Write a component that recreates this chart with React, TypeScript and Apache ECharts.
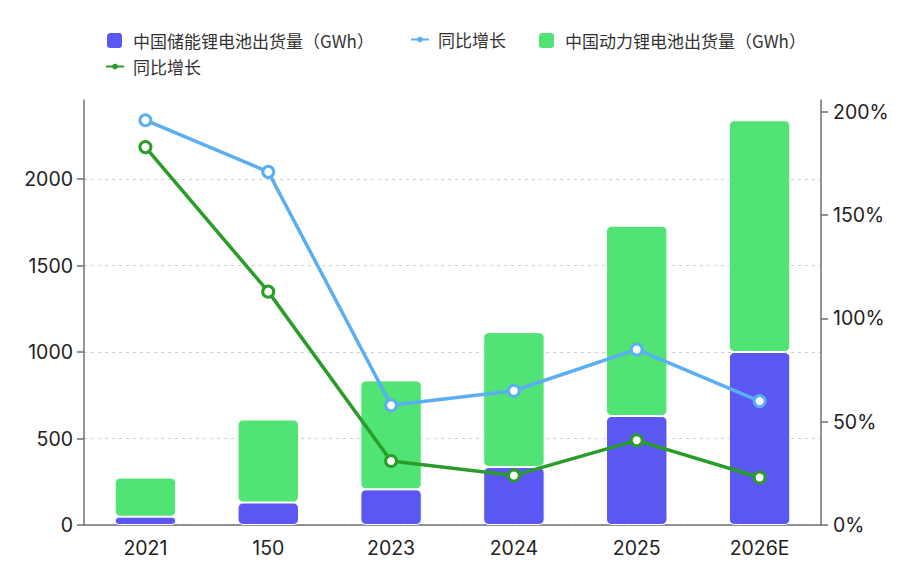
import React, { useEffect, useRef } from "react";
import * as echarts from "echarts";

const categories = ["2021", "150", "2023", "2024", "2025", "2026E"];
const storageShipments = [48, 130, 206, 335, 630, 1000];
const powerShipments = [226, 480, 630, 780, 1100, 1340];
const storageGrowth = [196, 171, 58, 65, 85, 60];
const powerGrowth = [183, 113, 31, 24, 41, 23];
const leftTicks = [0, 500, 1000, 1500, 2000];
const rightTicks = [0, 50, 100, 150, 200];

const NAME_STORAGE = "中国储能锂电池出货量（GWh）";
const NAME_POWER = "中国动力锂电池出货量（GWh）";
const NAME_G1 = "同比增长";
const NAME_G2 = "同比增长 ";

const BLUE_BAR = "#5A57F3";
const GREEN_BAR = "#51E373";
const BLUE_LINE = "#5AAEF2";
const GREEN_LINE = "#2A9C2A";

export default function App() {
  const ref = useRef<HTMLDivElement>(null);
  useEffect(() => {
    if (!ref.current) return;
    const chart = echarts.init(ref.current, undefined, { renderer: "svg" });
    const textStyle = (pad: number) => ({
      color: "#333",
      fontSize: 17,
      fontFamily: "Noto Sans CJK SC",
      padding: [0, 0, 0, pad],
    });
    const barLegend = (name: string, left: number, top: number) => ({
      left,
      top,
      padding: 0,
      itemWidth: 17,
      itemHeight: 17,
      formatter: (n: string) => n.trim(),
      textStyle: textStyle(5),
      data: [{ name, icon: "roundRect" }],
    });
    const lineLegend = (name: string, color: string, left: number, top: number) => ({
      left,
      top,
      padding: 0,
      itemWidth: 18,
      itemHeight: 7,
      formatter: (n: string) => n.trim(),
      textStyle: textStyle(4),
      data: [{ name, itemStyle: { color, borderColor: color, borderWidth: 0 } }],
    });
    const axisColor = "#707070";
    chart.setOption({
      animation: false,
      textStyle: { fontFamily: "Inter" },
      legend: [
        barLegend(NAME_STORAGE, 97, 23),
        lineLegend(NAME_G1, BLUE_LINE, 402, 23),
        barLegend(NAME_POWER, 529, 23),
        lineLegend(NAME_G2, GREEN_LINE, 97, 50),
      ],
      grid: { left: 76, right: 79, top: 92, bottom: 38 },
      xAxis: {
        type: "category",
        data: categories,
        axisLine: { lineStyle: { color: axisColor, width: 1.5 } },
        axisTick: { alignWithLabel: true, length: 6, lineStyle: { color: axisColor, width: 1.5 } },
        axisLabel: { color: "#222", fontSize: 19.5, margin: 13, fontFamily: "Inter" },
      },
      yAxis: [
        {
          type: "value",
          min: 0,
          max: (v: { max: number }) => v.max * 1.05,
          axisLine: { show: true, lineStyle: { color: axisColor, width: 1.5 } },
          axisTick: { show: true, length: 7, customValues: leftTicks, lineStyle: { color: axisColor, width: 1.5 } },
          axisLabel: {
            color: "#222",
            fontSize: 19.5,
            margin: 11,
            customValues: leftTicks,
            formatter: (v: number) => String(v),
            fontFamily: "Inter",
          },
          splitLine: { show: true, lineStyle: { color: "#cfcfcf", type: [3, 4], width: 1.2 } },
        },
        {
          type: "value",
          min: 0,
          max: (v: { max: number }) => v.max * 1.05,
          axisLine: { show: true, lineStyle: { color: axisColor, width: 1.5 } },
          axisTick: { show: true, length: 7, customValues: rightTicks, lineStyle: { color: axisColor, width: 1.5 } },
          axisLabel: {
            color: "#222",
            fontSize: 19.5,
            margin: 12,
            customValues: rightTicks,
            formatter: (v: number) => v + "%",
            fontFamily: "Inter",
          },
          splitLine: { show: false },
        },
      ],
      series: [
        {
          name: NAME_STORAGE,
          type: "bar",
          stack: "total",
          barWidth: "50%",
          data: storageShipments,
          itemStyle: { color: BLUE_BAR, borderRadius: 5, borderColor: "#fff", borderWidth: 1 },
        },
        {
          name: NAME_G1,
          type: "line",
          yAxisIndex: 1,
          data: storageGrowth,
          symbol: "circle",
          symbolSize: 11,
          lineStyle: { color: BLUE_LINE, width: 3.5 },
          itemStyle: { color: "#fff", borderColor: BLUE_LINE, borderWidth: 3 },
          z: 5,
        },
        {
          name: NAME_POWER,
          type: "bar",
          stack: "total",
          barWidth: "50%",
          data: powerShipments,
          itemStyle: { color: GREEN_BAR, borderRadius: 5, borderColor: "#fff", borderWidth: 1 },
        },
        {
          name: NAME_G2,
          type: "line",
          yAxisIndex: 1,
          data: powerGrowth,
          symbol: "circle",
          symbolSize: 11,
          lineStyle: { color: GREEN_LINE, width: 3.5 },
          itemStyle: { color: "#fff", borderColor: GREEN_LINE, borderWidth: 3 },
          z: 5,
        },
      ],
    });
    return () => chart.dispose();
  }, []);
  return <div ref={ref} style={{ width: 892, height: 555 }} />;
}
